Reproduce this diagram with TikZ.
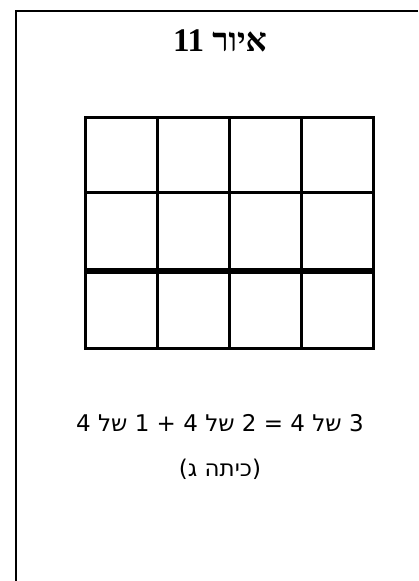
\documentclass[tikz,border=0pt]{standalone}
\usepackage{fontspec}
\newfontfamily\hebsans[Script=Hebrew]{DejaVu Sans}
\newfontfamily\hebserif[Script=Hebrew]{Liberation Serif}
\TeXXeTstate=1
\usepackage{tikz}
\usetikzlibrary{positioning}
\tikzset{
  cellline/.style={line width=3pt},
  halfline/.style={line width=6.5pt},
  frameline/.style={line width=2.2pt, color=black},
  hebtext/.style={inner sep=0, font=\hebsans\fontsize{23}{27}\selectfont},
}

\begin{document}
\begin{tikzpicture}[x=1pt,y=-1pt]
            \useasboundingbox (0,0) rectangle (418,581);
            % Frame round the figure (only top and left show)
            \draw[frameline] (418,11) -- (16,11) -- (16,581);
            % Title
            \node[inner sep=0] (title) at (220,41) {\hebserif\bfseries\fontsize{33}{37}\selectfont\beginR איור 11\endR};
            % The 3 x 4 rectangle
            \draw[cellline] (85,117) rectangle (373,348);
            \draw[cellline] (157,117) -- (157,348);
            \draw[cellline] (229,117) -- (229,348);
            \draw[cellline] (301,117) -- (301,348);
            \draw[cellline] (85,192) -- (373,192);
            % thick line splitting off one row
            \draw[halfline] (85,271) -- (373,271);
            % Equation and grade
            \node[hebtext] (eqn) at (220,423) {\beginR 3 של 4 = 2 של 4 + 1 של 4\endR};
            \node[hebtext] (grade) at (220,469) {\beginR (כיתה ג)\endR};
          \end{tikzpicture}
\end{document}
